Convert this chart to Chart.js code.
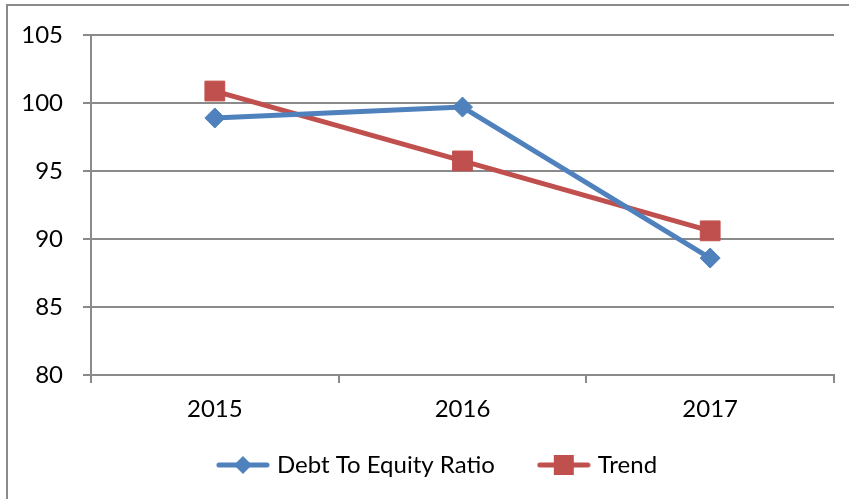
<!DOCTYPE html>
<html>
<head>
<meta charset="utf-8">
<script src="https://cdn.jsdelivr.net/npm/chart.js@4.4.0/dist/chart.umd.min.js"></script>
<style>
  body { margin: 0; background: #fff; }
  #wrap { position: relative; width: 849px; height: 499px; overflow: hidden; }
  #frame { position: absolute; left: 6px; top: 4px; width: 900px; height: 600px;
           border-left: 2px solid #8a8a8a; border-top: 2px solid #8a8a8a; }
  canvas { position: absolute; left: 0; top: 0; }
</style>
</head>
<body>
<div id="wrap">
  <div id="frame"></div>
  <canvas id="chart" width="849" height="499"></canvas>
</div>
<script>
// chart data
const years = ['2015', '2016', '2017'];
const debtToEquity = [98.9, 99.7, 88.6];
const trend = [100.88, 95.74, 90.6];
const yTicks = [80, 85, 90, 95, 100, 105];

const BLUE = '#4F81BD';
const RED = '#C0504D';
const GRID = '#8a8a8a';
const FONT = { family: 'Lato, Calibri, sans-serif', size: 24 };

// little line + marker picture for the legend
function legendIcon(color, shape) {
    const c = document.createElement('canvas');
    c.width = 54;
    c.height = 22;
    const g = c.getContext('2d');
    g.strokeStyle = color;
    g.fillStyle = color;
    g.lineWidth = 5;
    g.lineCap = 'round';
    g.beginPath();
    g.moveTo(3, 11);
    g.lineTo(51, 11);
    g.stroke();
    if (shape === 'diamond') {
        g.beginPath();
        g.moveTo(27, 2);
        g.lineTo(36, 11);
        g.lineTo(27, 20);
        g.lineTo(18, 11);
        g.closePath();
        g.fill();
    } else {
        g.fillRect(17, 1, 20, 20);
    }
    return c;
}
const icons = [legendIcon(BLUE, 'diamond'), legendIcon(RED, 'square')];

// move the legend box where the reference has it
const legendPlace = {
    id: 'legendPlace',
    afterLayout(chart) {
        const lg = chart.legend;
        const h = lg.bottom - lg.top;
        lg.left = 43;
        lg.top = 406;
        lg.bottom = lg.top + h;
    }
};

const ctx = document.getElementById('chart').getContext('2d');
new Chart(ctx, {
    type: 'line',
    data: {
        labels: years,
        datasets: [{
            label: 'Debt To Equity Ratio',
            data: debtToEquity,
            borderColor: BLUE,
            backgroundColor: BLUE,
            borderWidth: 5,
            pointStyle: 'rectRot',
            pointRadius: 10,
            pointBorderWidth: 1,
            borderJoinStyle: 'round',
            borderCapStyle: 'round'
        }, {
            label: 'Trend',
            data: trend,
            borderColor: RED,
            backgroundColor: RED,
            borderWidth: 5,
            pointStyle: 'rect',
            pointRadius: 14,
            pointBorderWidth: 1,
            borderJoinStyle: 'round',
            borderCapStyle: 'round'
        }]
    },
    plugins: [legendPlace],
    options: {
        responsive: false,
        animation: false,
        layout: { padding: { top: 35, right: 14, left: 0, bottom: 0 } },
        plugins: {
            tooltip: { enabled: false },
            legend: {
                position: 'bottom',
                labels: {
                    font: FONT,
                    color: '#000',
                    usePointStyle: true,
                    pointStyleWidth: 44,
                    padding: 47,
                    generateLabels: (chart) => {
                        const items = Chart.defaults.plugins.legend.labels.generateLabels(chart);
                        items.forEach((it, i) => { it.pointStyle = icons[i]; });
                        return items;
                    }
                }
            }
        },
        scales: {
            x: {
                offset: true,
                afterFit: (s) => { s.height = 43; },
                grid: {
                    offset: true,
                    drawOnChartArea: false,
                    color: GRID,
                    lineWidth: 2,
                    tickLength: 8
                },
                border: { color: GRID, width: 2 },
                ticks: { font: FONT, color: '#000', padding: 12 }
            },
            y: {
                min: 80,
                max: 105,
                afterFit: (s) => { s.width = 91; },
                afterBuildTicks: (s) => { s.ticks = yTicks.map(v => ({ value: v })); },
                grid: { color: GRID, lineWidth: 2, tickLength: 8 },
                border: { color: GRID, width: 2 },
                ticks: { font: FONT, color: '#000', padding: 20 }
            }
        }
    }
});
</script>
</body>
</html>
